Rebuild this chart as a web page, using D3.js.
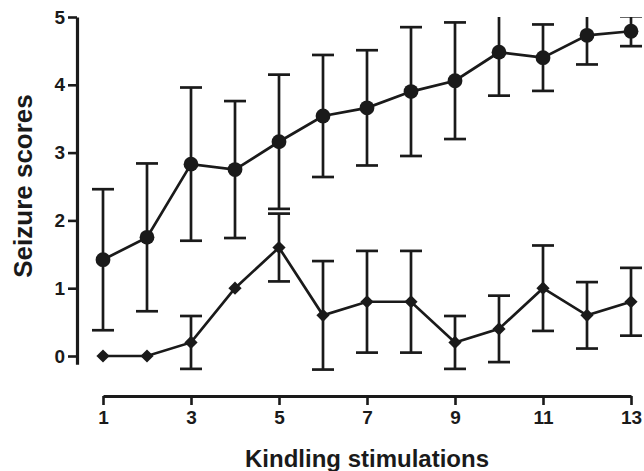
<!DOCTYPE html>
<html>
<head>
<meta charset="utf-8">
<script src="https://cdn.jsdelivr.net/npm/d3@7"></script>
<style>
  body { margin: 0; background: #fff; }
  text { font-family: "Liberation Sans", Arial, sans-serif; font-weight: bold; fill: #1a1a1a; }
</style>
</head>
<body>
<svg id="chart"></svg>
<script>
// data
const stimulations = [1, 2, 3, 4, 5, 6, 7, 8, 9, 10, 11, 12, 13];
const circleMean = [1.42, 1.75, 2.83, 2.75, 3.16, 3.54, 3.66, 3.90, 4.06, 4.48, 4.40, 4.73, 4.79];
const circleErr = [1.04, 1.09, 1.13, 1.01, 0.99, 0.90, 0.85, 0.95, 0.86, 0.64, 0.49, 0.43, 0.22];
const diamondMean = [0, 0, 0.2, 1.0, 1.6, 0.6, 0.8, 0.8, 0.2, 0.4, 1.0, 0.6, 0.8];
const diamondErr = [0, 0, 0.39, 0, 0.5, 0.8, 0.75, 0.75, 0.39, 0.49, 0.63, 0.49, 0.5];
const xTicks = [1, 3, 5, 7, 9, 11, 13];
const yTicks = [0, 1, 2, 3, 4, 5];

const width = 644, height = 471;
const ink = '#1a1a1a';

const svg = d3.select('#chart').attr('width', width).attr('height', height);

const x = d3.scaleLinear().domain([1, 13]).range([103, 631]);
const y = d3.scaleLinear().domain([0, 5]).range([356, 17]);

// clip so bars stop at the top of the scale
svg.append('clipPath').attr('id', 'plotclip')
  .append('rect').attr('x', 80).attr('y', y(5)).attr('width', width - 80).attr('height', height);

// y axis (domain line runs a bit below 0)
const yAxisScale = y.copy().domain([-0.12, 5]).range([y(-0.12), y(5)]);
const yAxis = svg.append('g')
  .attr('transform', 'translate(77,0)')
  .call(d3.axisLeft(yAxisScale).tickValues(yTicks).tickFormat(d3.format('d')).tickSize(9).tickSizeOuter(0));
yAxis.select('.domain').attr('stroke', ink).attr('stroke-width', 3.2);
yAxis.selectAll('.tick line').attr('stroke', ink).attr('stroke-width', 2.6);
yAxis.selectAll('.tick text').attr('x', -12).attr('font-size', 19).attr('font-family', null).style('fill', ink);

// x axis
const xAxis = svg.append('g')
  .attr('transform', 'translate(0,396)')
  .call(d3.axisBottom(x).tickValues(xTicks).tickFormat(d3.format('d')).tickSize(9).tickSizeOuter(0));
xAxis.select('.domain').attr('stroke', ink).attr('stroke-width', 3.2);
xAxis.selectAll('.tick line').attr('stroke', ink).attr('stroke-width', 2.6);
xAxis.selectAll('.tick text').attr('y', 15).attr('font-size', 19).attr('font-family', null).style('fill', ink);

// titles
svg.append('text')
  .attr('x', 367).attr('y', 467)
  .attr('text-anchor', 'middle')
  .attr('font-size', 24)
  .text('Kindling stimulations');

svg.append('text')
  .attr('transform', 'translate(32,186) rotate(-90)')
  .attr('text-anchor', 'middle')
  .attr('font-size', 26)
  .text('Seizure scores');

const plot = svg.append('g').attr('clip-path', 'url(#plotclip)');

function drawSeries(means, errs, shape) {
  const pts = stimulations.map((s, i) => ({ s, m: means[i], e: errs[i] }));
  const g = plot.append('g');
  const bars = pts.filter(d => d.e > 0);
  const capW = 11;
  g.selectAll('line.bar').data(bars).join('line')
    .attr('x1', d => x(d.s)).attr('x2', d => x(d.s))
    .attr('y1', d => y(d.m - d.e)).attr('y2', d => y(d.m + d.e))
    .attr('stroke', ink).attr('stroke-width', 2.7);
  g.selectAll('line.capHi').data(bars).join('line')
    .attr('x1', d => x(d.s) - capW).attr('x2', d => x(d.s) + capW)
    .attr('y1', d => y(d.m + d.e)).attr('y2', d => y(d.m + d.e))
    .attr('stroke', ink).attr('stroke-width', 2.7);
  g.selectAll('line.capLo').data(bars).join('line')
    .attr('x1', d => x(d.s) - capW).attr('x2', d => x(d.s) + capW)
    .attr('y1', d => y(d.m - d.e)).attr('y2', d => y(d.m - d.e))
    .attr('stroke', ink).attr('stroke-width', 2.7);
  g.append('path').datum(pts)
    .attr('d', d3.line().x(d => x(d.s)).y(d => y(d.m)))
    .attr('fill', 'none').attr('stroke', ink).attr('stroke-width', 2.7);
  if (shape === 'circle') {
    g.selectAll('circle').data(pts).join('circle')
      .attr('cx', d => x(d.s)).attr('cy', d => y(d.m)).attr('r', 7.4)
      .attr('fill', ink);
  } else {
    const r = 6.6;
    g.selectAll('path.dia').data(pts).join('path')
      .attr('d', d => `M${x(d.s)},${y(d.m) - r}L${x(d.s) + r},${y(d.m)}L${x(d.s)},${y(d.m) + r}L${x(d.s) - r},${y(d.m)}Z`)
      .attr('fill', ink);
  }
}

drawSeries(diamondMean, diamondErr, 'diamond');
drawSeries(circleMean, circleErr, 'circle');
</script>
</body>
</html>
